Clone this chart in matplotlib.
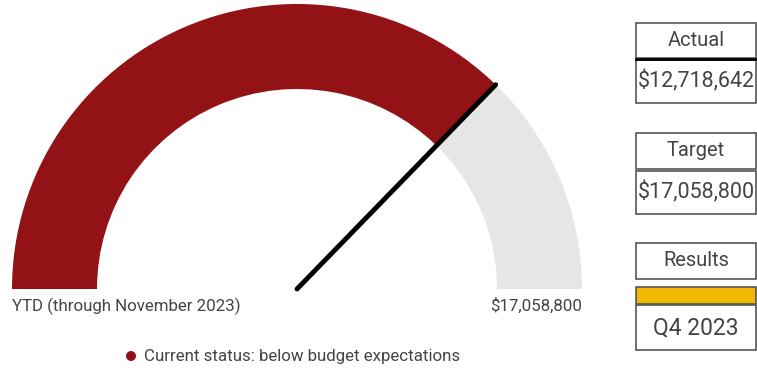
import matplotlib
matplotlib.use("Agg")
import matplotlib.pyplot as plt
import numpy as np
from matplotlib.patches import Wedge, Rectangle, Circle

plt.rcParams["font.family"] = ["Roboto", "DejaVu Sans"]

# Gauge figures
actual = 12718642
target = 17058800
period_label = "YTD (through November 2023)"
results_label = "Q4 2023"
status_text = "Current status: below budget expectations"

RED = "#931215"
GREY = "#e6e6e6"
GOLD = "#f0b800"
TEXT = "#444444"
EDGE = "#555555"

fig = plt.figure(figsize=(7.57, 3.68), dpi=100)
ax = fig.add_axes([0, 0, 1, 1])
ax.set_xlim(0, 757)
ax.set_ylim(368, 0)
ax.set_aspect("equal")
ax.axis("off")

# --- Gauge --------------------------------------------------------------
cx, cy = 297, 289
r_out, r_in = 285, 200
frac = min(actual / target, 1.0)
split = 180 * (1 - frac)  # angle (deg, from +x axis) where actual ends

# y axis is inverted, so angles go clockwise on screen; flip sign
ax.add_patch(Wedge((cx, cy), r_out, -180, -split, width=r_out - r_in,
                   facecolor=RED, edgecolor="none"))
ax.add_patch(Wedge((cx, cy), r_out, -split, 0, width=r_out - r_in,
                   facecolor=GREY, edgecolor="none"))

theta = np.radians(split)
nx = cx + r_out * np.cos(theta)
ny = cy - r_out * np.sin(theta)
ax.plot([cx, nx], [cy, ny], color="black", lw=3.5, solid_capstyle="round")

ax.text(12, 306, period_label, fontsize=12.2, color=TEXT, ha="left", va="center")
ax.text(582, 306, f"${target:,}", fontsize=12.2, color=TEXT, ha="right", va="center")

ax.add_patch(Circle((131, 356), 5, facecolor=RED, edgecolor="none"))
ax.text(144, 356, status_text, fontsize=12.2, color=TEXT, ha="left", va="center")

# --- Side boxes -----------------------------------------------------------
bx, bw = 636, 120


def box(y0, y1, label=None, size=13, face="white", lw=1.2):
    ax.add_patch(Rectangle((bx, y0), bw, y1 - y0, facecolor=face,
                           edgecolor=EDGE, lw=lw))
    if label:
        ax.text(bx + bw / 2, (y0 + y1) / 2, label, fontsize=size,
                color=TEXT, ha="center", va="center")


box(23, 58, "Actual", 14.5)
box(60, 103, f"${actual:,}", 15.5)
ax.plot([bx, bx + bw], [59, 59], color="black", lw=2)

box(133, 169, "Target", 14.5)
box(171, 214, f"${target:,}", 15.5)

box(243, 279, "Results", 14.5)
box(287, 304, face=GOLD)
box(305, 350, results_label, 16.5)

fig.savefig("out.png", dpi=100)
